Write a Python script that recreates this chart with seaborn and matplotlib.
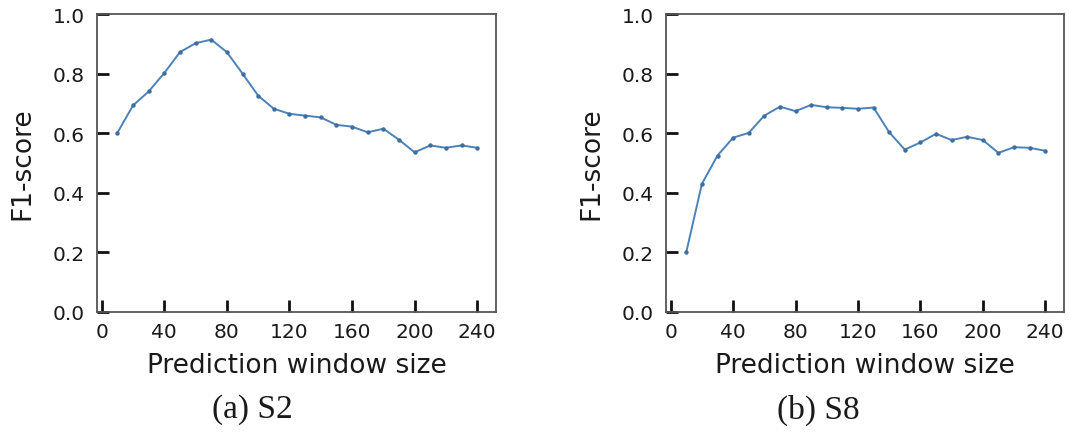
import matplotlib
matplotlib.use("Agg")
import matplotlib.pyplot as plt
import pandas as pd
import seaborn as sns

# prediction window sizes shared by both panels
window_size = [10, 20, 30, 40, 50, 60, 70, 80, 90, 100, 110, 120,
               130, 140, 150, 160, 170, 180, 190, 200, 210, 220, 230, 240]

f1_s2 = [0.601, 0.693, 0.740, 0.802, 0.872, 0.902, 0.914, 0.872, 0.800, 0.726,
         0.682, 0.665, 0.659, 0.653, 0.628, 0.622, 0.603, 0.615, 0.578, 0.536,
         0.559, 0.551, 0.559, 0.551]

f1_s8 = [0.201, 0.430, 0.525, 0.585, 0.601, 0.659, 0.689, 0.674, 0.695, 0.687,
         0.685, 0.682, 0.686, 0.603, 0.545, 0.569, 0.598, 0.577, 0.588, 0.577,
         0.534, 0.553, 0.551, 0.541]

panels = [("(a) S2", f1_s2), ("(b) S8", f1_s8)]
x_ticks = [0, 40, 80, 120, 160, 200, 240]
y_ticks = [0.0, 0.2, 0.4, 0.6, 0.8, 1.0]

LINE_COLOR = "#4b82bb"
SPINE_COLOR = "#555555"
TEXT_COLOR = "#1a1a1a"

sns.set_style("ticks", {"xtick.direction": "in", "ytick.direction": "in"})
plt.rcParams["font.family"] = ["DejaVu Sans"]

fig = plt.figure(figsize=(10.69, 4.39), dpi=100)
axes_rects = [
    [97 / 1069, 126 / 439, 399 / 1069, 298 / 439],
    [666 / 1069, 126 / 439, 398 / 1069, 298 / 439],
]
caption_x = [252 / 1069, 818 / 1069]

for rect, cx, (caption, values) in zip(axes_rects, caption_x, panels):
    ax = fig.add_axes(rect)
    df = pd.DataFrame({"window": window_size, "f1": values})
    sns.lineplot(
        data=df, x="window", y="f1", ax=ax,
        color=LINE_COLOR, linewidth=1.4,
        marker="o", markersize=3.2, markeredgewidth=0,
        markerfacecolor="#3f6f9f",
    )
    ax.set_xlim(-3, 252)
    ax.set_ylim(0, 1.0)
    ax.set_xticks(x_ticks)
    ax.set_yticks(y_ticks)
    ax.set_yticklabels([f"{v:.1f}" for v in y_ticks])
    ax.tick_params(axis="both", which="major", direction="in", length=8.5, width=2,
                   color="#111111", left=True, bottom=True, top=False, right=False,
                   labelsize=14.5, labelcolor=TEXT_COLOR)
    ax.tick_params(axis="y", pad=9)
    ax.tick_params(axis="x", pad=7)
    for sp in ax.spines.values():
        sp.set_visible(True)
        sp.set_color(SPINE_COLOR)
        sp.set_linewidth(1.3)
    ax.set_xlabel("Prediction window size", fontsize=19, color=TEXT_COLOR, labelpad=8)
    ax.set_ylabel("F1-score", fontsize=19, color=TEXT_COLOR, labelpad=12)
    fig.text(cx, 1 - 410 / 439, caption, ha="center", va="center",
             fontsize=24, family=["Liberation Serif", "DejaVu Serif"], color=TEXT_COLOR)

fig.savefig("out.png", dpi=100)
